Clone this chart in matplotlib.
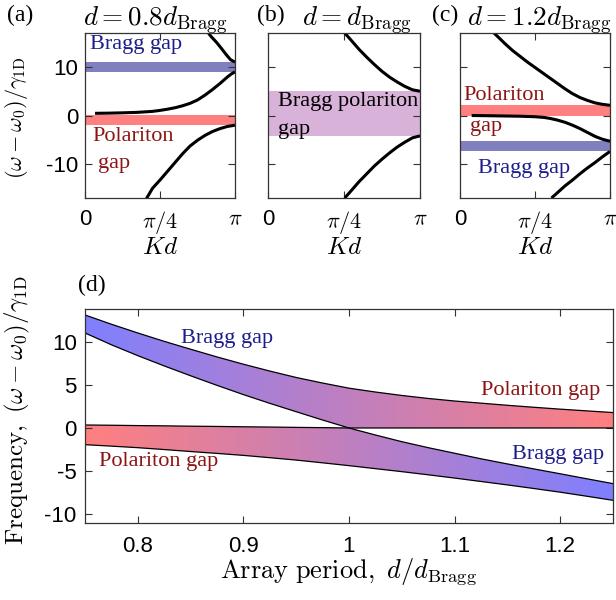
import numpy as np
import matplotlib
matplotlib.use('Agg')
import matplotlib.pyplot as plt
from matplotlib.colors import LinearSegmentedColormap
from matplotlib.patches import Polygon

plt.rcParams['font.family'] = 'Liberation Sans'
plt.rcParams['mathtext.fontset'] = 'cm'
plt.rcParams['axes.unicode_minus'] = False

SERIF = 'Liberation Serif'
BRAGG_TXT = '#1c1c8c'
POLAR_TXT = '#8c1414'
BRAGG_BAND = '#8080bf'
POLAR_BAND = '#ff8080'
MIX_BAND = '#d8b2d8'

# dispersion curves, Kd in units of the axis span (0 .. 1)
# (a) d = 0.8 d_Bragg
a_top_k = [0.81, 0.84, 0.876, 0.91, 0.94, 0.97, 1.0]
a_top_w = [17.5, 16.3, 15.1, 13.8, 12.6, 11.5, 11.0]
a_mid_k = [0.067, 0.15, 0.25, 0.35, 0.45, 0.5, 0.55, 0.6, 0.65, 0.7, 0.75, 0.8,
           0.85, 0.9, 0.95, 0.975, 1.0]
a_mid_w = [0.45, 0.48, 0.55, 0.65, 0.85, 1.05, 1.3, 1.6, 2.0, 2.5, 3.2, 4.2,
           5.35, 6.6, 7.95, 8.55, 9.0]
a_bot_k = [0.41, 0.45, 0.5, 0.55, 0.6, 0.65, 0.7, 0.75, 0.8, 0.85, 0.9, 0.95, 1.0]
a_bot_w = [-17.1, -15.0, -13.3, -11.5, -9.7, -7.9, -6.3, -5.1, -4.1, -3.3, -2.7,
           -2.25, -2.0]
a_bragg = (9.0, 11.0)
a_polar = (-2.0, 0.1)

# (b) d = d_Bragg
b_top_k = [0.505, 0.55, 0.6, 0.65, 0.7, 0.75, 0.8, 0.85, 0.9, 0.95, 1.0]
b_top_w = [17.0, 15.4, 13.6, 12.0, 10.5, 9.1, 7.9, 6.9, 6.0, 5.3, 5.0]
b_bot_k = [0.505, 0.55, 0.6, 0.65, 0.7, 0.75, 0.8, 0.85, 0.9, 0.95, 1.0]
b_bot_w = [-17.0, -15.4, -13.6, -12.0, -10.4, -9.0, -7.7, -6.5, -5.5, -4.6, -4.2]
b_gap = (-4.2, 5.0)

# (c) d = 1.2 d_Bragg
c_top_k = [0.21, 0.25, 0.3, 0.35, 0.4, 0.45, 0.5, 0.55, 0.6, 0.65, 0.7, 0.75,
           0.8, 0.85, 0.9, 0.95, 1.0]
c_top_w = [17.5, 16.3, 14.8, 13.4, 12.2, 11.0, 9.9, 8.8, 7.7, 6.6, 5.5, 4.5,
           3.7, 3.1, 2.6, 2.3, 2.1]
c_mid_k = [0.078, 0.2, 0.3, 0.4, 0.5, 0.56, 0.6, 0.65, 0.7, 0.75, 0.8, 0.85,
           0.9, 0.95, 1.0]
c_mid_w = [0.0, -0.05, -0.1, -0.15, -0.25, -0.4, -0.6, -0.95, -1.4, -2.0, -2.7,
           -3.5, -4.3, -4.9, -5.3]
c_bot_k = [0.61, 0.65, 0.7, 0.75, 0.8, 0.85, 0.9, 0.95, 1.0]
c_bot_w = [-17.0, -15.9, -14.5, -13.3, -12.0, -10.8, -9.7, -8.5, -7.4]
c_polar = (0.0, 2.1)
c_bragg = (-7.4, -5.3)

# (d) gap edges versus array period
period = np.array([0.75, 0.775, 0.8, 0.825, 0.85, 0.875, 0.9, 0.925, 0.95, 0.975,
                   1.0, 1.025, 1.05, 1.075, 1.1, 1.125, 1.15, 1.175, 1.2, 1.225,
                   1.25])
edge1 = np.array([13.2, 12.12, 11.1, 10.12, 9.2, 8.3, 7.45, 6.65, 5.9, 5.25,
                  4.65, 4.2, 3.8, 3.45, 3.15, 2.9, 2.65, 2.42, 2.2, 2.0, 1.8])
edge2 = np.array([11.1, 9.72, 8.45, 7.25, 6.1, 4.98, 3.9, 2.88, 1.9, 0.93,
                  0.0, -0.82, -1.6, -2.3, -2.95, -3.6, -4.2, -4.78, -5.35, -5.93,
                  -6.5])
edge3 = np.array([0.35, 0.32, 0.28, 0.25, 0.21, 0.18, 0.14, 0.11, 0.07, 0.04,
                  0.0, 0.0, 0.0, 0.0, 0.0, 0.0, 0.0, 0.0, 0.0, 0.0, 0.0])
edge4 = np.array([-1.95, -2.12, -2.3, -2.52, -2.75, -2.97, -3.2, -3.47, -3.75,
                  -4.07, -4.4, -4.75, -5.1, -5.47, -5.85, -6.25, -6.65, -7.07,
                  -7.5, -7.97, -8.45])

k_ticks = [0, 0.5, 1]
k_labels = ['0', r'$\pi/4$', r'$\pi$']

W, H = 616, 600
fig = plt.figure(figsize=(W / 100, H / 100), dpi=100)


def box(l, t, r, b):
    # pixel box -> figure fraction rect
    return [l / W, 1 - b / H, (r - l) / W, (b - t) / H]


def style(ax, size=16, xpad=9, ypad=5):
    ax.tick_params(direction='in', top=True, right=True, length=5, width=0.8,
                   labelsize=size, color='#333333')
    ax.tick_params(axis='x', pad=xpad)
    ax.tick_params(axis='y', pad=ypad)
    for s in ax.spines.values():
        s.set_linewidth(0.9)
        s.set_color('#333333')


def band_axes(rect):
    ax = fig.add_axes(rect)
    ax.set_xlim(0, 1)
    ax.set_ylim(-17, 17)
    ax.set_xticks(k_ticks)
    ax.set_xticklabels(k_labels)
    ax.set_yticks([-10, 0, 10])
    style(ax, xpad=8)
    return ax


def note(ax, x, y, s, color, **kw):
    ax.text(x, y, s, color=color, family=SERIF, fontsize=16, va='center', **kw)


ax_a = band_axes(box(85, 33, 235, 198))
ax_b = band_axes(box(268, 33, 420, 198))
ax_c = band_axes(box(460, 33, 610, 198))

ax_a.axhspan(*a_bragg, color=BRAGG_BAND, lw=0, zorder=1)
ax_a.axhspan(*a_polar, color=POLAR_BAND, lw=0, zorder=1)
for k, w in [(a_top_k, a_top_w), (a_mid_k, a_mid_w), (a_bot_k, a_bot_w)]:
    ax_a.plot(k, w, color='k', lw=2.2, solid_capstyle='butt', zorder=2)
note(ax_a, 0.34, 14.7, 'Bragg gap', BRAGG_TXT, ha='center')
note(ax_a, 0.05, -4.4, 'Polariton', POLAR_TXT)
note(ax_a, 0.085, -9.8, 'gap', POLAR_TXT)

ax_b.axhspan(*b_gap, color=MIX_BAND, lw=0, zorder=1)
for k, w in [(b_top_k, b_top_w), (b_bot_k, b_bot_w)]:
    ax_b.plot(k, w, color='k', lw=2.2, solid_capstyle='butt', zorder=2)
ax_b.set_yticklabels([])
note(ax_b, 0.066, 2.9, 'Bragg polariton', 'k')
note(ax_b, 0.066, -2.8, 'gap', 'k')

ax_c.axhspan(*c_polar, color=POLAR_BAND, lw=0, zorder=1)
ax_c.axhspan(*c_bragg, color=BRAGG_BAND, lw=0, zorder=1)
for k, w in [(c_top_k, c_top_w), (c_mid_k, c_mid_w), (c_bot_k, c_bot_w)]:
    ax_c.plot(k, w, color='k', lw=2.2, solid_capstyle='butt', zorder=2)
ax_c.set_yticklabels([])
note(ax_c, 0.02, 4.1, 'Polariton', POLAR_TXT)
note(ax_c, 0.067, -2.2, 'gap', POLAR_TXT)
note(ax_c, 0.12, -10.9, 'Bragg gap', BRAGG_TXT)

for ax in (ax_a, ax_b, ax_c):
    ax.set_xlabel(r'$Kd$', fontsize=18, labelpad=-1)

fig.text(17 / W, 1 - 118 / H, r'$(\omega-\omega_0)/\gamma_{\mathrm{1D}}$',
         rotation=90, ha='center', va='center', fontsize=16)

# panel letters and titles
for x0, s in [(7, '(a)'), (257, '(b)'), (432, '(c)')]:
    fig.text(x0 / W, 1 - 21 / H, s, family=SERIF, fontsize=17)
for x0, s in [(83, r'$d=0.8d_{\mathrm{Bragg}}$'), (302, r'$d=d_{\mathrm{Bragg}}$'),
              (467, r'$d=1.2d_{\mathrm{Bragg}}$')]:
    fig.text(x0 / W, 1 - 26 / H, s, fontsize=19.5)
fig.text(78 / W, 1 - 291 / H, '(d)', family=SERIF, fontsize=17)

# (d) gap map
ax_d = fig.add_axes(box(85, 309, 613, 523))
blue_d = (0.5, 0.5, 1.0)
red_d = (1.0, 0.5, 0.5)
cmap_up = LinearSegmentedColormap.from_list('up', [blue_d, red_d])
cmap_dn = LinearSegmentedColormap.from_list('dn', [red_d, blue_d])


def gradient_band(ax, x, lo, hi, cmap):
    verts = np.column_stack([np.r_[x, x[::-1]], np.r_[lo, hi[::-1]]])
    patch = Polygon(verts, closed=True, facecolor='none', edgecolor='none')
    ax.add_patch(patch)
    im = ax.imshow(np.linspace(0, 1, 256)[None, :], cmap=cmap, aspect='auto',
                   extent=[x[0], x[-1], lo.min(), hi.max()], origin='lower',
                   zorder=1, interpolation='bilinear')
    im.set_clip_path(patch)


gradient_band(ax_d, period, np.maximum(edge2, edge3), edge1, cmap_up)
gradient_band(ax_d, period, edge4, np.minimum(edge2, edge3), cmap_dn)
for e in (edge1, edge2, edge3, edge4):
    ax_d.plot(period, e, color='k', lw=0.9, zorder=2)

ax_d.set_xlim(0.75, 1.25)
ax_d.set_ylim(-11.1, 13.9)
ax_d.set_xticks([0.8, 0.9, 1, 1.1, 1.2])
ax_d.set_xticklabels(['0.8', '0.9', '1', '1.1', '1.2'])
ax_d.set_yticks([-10, -5, 0, 5, 10])
style(ax_d, size=16, xpad=9, ypad=6)

note(ax_d, 0.885, 10.5, 'Bragg gap', BRAGG_TXT, ha='center')
note(ax_d, 0.82, -3.95, 'Polariton gap', POLAR_TXT, ha='center')
note(ax_d, 1.181, 4.4, 'Polariton gap', POLAR_TXT, ha='center')
note(ax_d, 1.198, -3.1, 'Bragg gap', BRAGG_TXT, ha='center')

ax_d.set_xlabel(r'$\mathrm{Array\ period,}\ d/d_{\mathrm{Bragg}}$', fontsize=19,
                labelpad=0)
fig.text(17 / W, 1 - 410 / H,
         r'$\mathrm{Frequency,}\ (\omega-\omega_0)/\gamma_{\mathrm{1D}}$',
         rotation=90, ha='center', va='center', fontsize=18)

fig.savefig('out.png', dpi=100)
